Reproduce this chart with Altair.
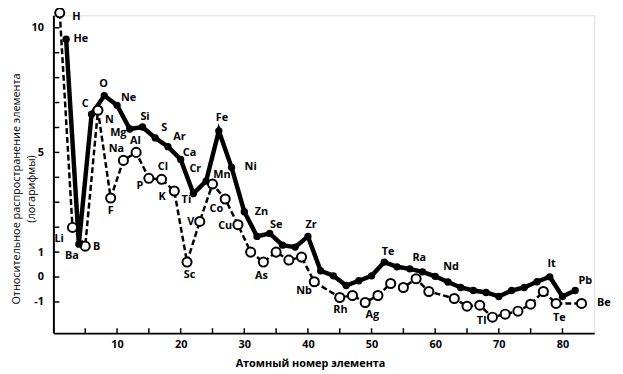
import altair as alt
import pandas as pd

# Odd atomic numbers (open circles, dashed line)
odd_z = [1, 3, 5, 7, 9, 11, 13, 15, 17, 19, 21, 23, 25, 27, 29, 31, 33, 35, 37, 39, 41,
         45, 47, 49, 51, 53, 55, 57, 59, 63, 65, 67, 69, 71, 73, 75, 77, 79, 83]
odd_v = [10.6, 1.99, 1.24, 6.69, 3.17, 4.68, 5.0, 3.96, 3.92, 3.45, 0.6, 2.23, 3.73, 3.13, 2.1,
         1.0, 0.6, 1.0, 0.68, 0.8, -0.19,
         -0.82, -0.74, -1.02, -0.74, -0.26, -0.42, -0.07, -0.58, -0.86, -1.17, -1.13, -1.61,
         -1.49, -1.37, -1.09, -0.58, -1.06, -1.06]

# Even atomic numbers (filled circles, solid line)
even_z = [2, 4, 6, 8, 10, 12, 14, 16, 18, 20, 22, 24, 26, 28, 30, 32, 34, 36, 38, 40,
          42, 44, 46, 48, 50, 52, 54, 56, 58, 60, 62, 64, 66, 68, 70, 72, 74, 76, 78, 80, 82]
even_v = [9.54, 1.32, 6.53, 7.28, 6.89, 5.94, 6.02, 5.58, 5.23, 4.72, 3.35, 3.85, 5.86, 4.4,
          2.62, 1.63, 1.75, 1.28, 1.2, 1.63, 0.25, 0.05, -0.34, -0.15, 0.05, 0.6, 0.41, 0.33,
          0.21, 0.03, -0.2, -0.42, -0.54, -0.62, -0.78, -0.54, -0.42, -0.19, 0.01, -0.78, -0.54]

# Element labels (text and where they sit, in data units)
label_text = ["H", "He", "C", "O", "N", "Ne", "Mg", "Si", "Na", "Al", "F", "Li", "Ba", "B",
              "S", "Ar", "Ca", "Cr", "Mn", "P", "Cl", "K", "Ti", "Fe", "Ni", "Co", "V", "Cu",
              "Sc", "Zn", "Se", "As", "Zr", "Nb", "Rh", "Ag", "Te", "Ra", "Nd", "Tl", "It",
              "Pb", "Te", "Be"]
label_z = [3.6, 4.3, 5.0, 7.9, 8.8, 11.8, 10.2, 14.4, 9.9, 12.9, 9.0, 0.9, 2.9, 6.8,
           17.4, 19.8, 21.4, 22.3, 26.5, 13.6, 17.2, 17.1, 20.9, 26.5, 31.0, 25.6, 21.6, 27.0,
           21.4, 32.7, 35.0, 32.7, 40.5, 39.4, 45.1, 50.1, 52.6, 57.5, 62.5, 67.3, 78.3,
           83.6, 79.5, 86.5]
label_v = [10.45, 9.54, 6.93, 7.76, 6.3, 7.17, 5.78, 6.42, 5.15, 5.47, 2.66, 1.51, 0.84, 1.2,
           5.98, 5.62, 4.99, 4.32, 4.08, 3.65, 4.4, 3.21, 3.09, 6.38, 4.4, 2.74, 2.19, 2.03,
           0.09, 2.62, 2.1, 0.05, 2.07, -0.58, -1.33, -1.53, 1.0, 0.76, 0.41, -1.77, 0.53,
           -0.15, -1.65, -1.06]

x_labels = [10, 20, 30, 40, 50, 60, 70, 80]
x_ticks = list(range(5, 85, 5))
y_labels = [10, 5, 1, 0, -1]
y_ticks = list(range(-1, 11))
y_title_lines = ["Относительное распространение элемента", "(логарифмы)"]
x_title = "Атомный номер элемента"

odd_df = pd.DataFrame({"z": odd_z, "v": odd_v})
even_df = pd.DataFrame({"z": even_z, "v": even_v})
lab_df = pd.DataFrame({"t": label_text, "z": label_z, "v": label_v})
xt_df = pd.DataFrame({"z": x_ticks})
yt_df = pd.DataFrame({"v": y_ticks})

FONT = "Open Sans"
W, H = 548, 322

xs = alt.Scale(domain=[0, 85], nice=False, zero=False)
ys = alt.Scale(domain=[-2.25, 10.5], nice=False, zero=False)

x_axis = alt.Axis(values=x_labels, labelExpr="'' + datum.value",
                  title=x_title, grid=False, domainColor="black",
                  domainWidth=2, ticks=False, labelFont=FONT, labelFontSize=11,
                  labelFontWeight="bold", labelColor="black", labelPadding=6,
                  titleFont=FONT, titleFontSize=11, titleFontWeight="bold",
                  titleColor="black", titleAlign="center", titleBaseline="middle",
                  titleX=260, titleY=31)
y_axis = alt.Axis(values=y_labels, labelExpr="'' + datum.value", title=None,
                  grid=False, domainColor="black", domainWidth=2, ticks=False,
                  labelFont=FONT, labelFontSize=11, labelFontWeight="bold",
                  labelColor="black", labelPadding=10)

Xn = alt.X("z:Q", scale=xs)
Yn = alt.Y("v:Q", scale=ys)

odd_line = alt.Chart(odd_df).mark_line(color="black", strokeWidth=2.5, strokeDash=[6, 3],
                                       clip=False).encode(
    x=alt.X("z:Q", scale=xs, axis=x_axis), y=alt.Y("v:Q", scale=ys, axis=y_axis))
even_line = alt.Chart(even_df).mark_line(color="black", strokeWidth=4.5,
                                         clip=False).encode(x=Xn, y=Yn)
odd_pts = alt.Chart(odd_df).mark_point(shape="circle", filled=True, fill="white",
                                       stroke="black", strokeWidth=2, size=85, opacity=1,
                                       clip=False).encode(x=Xn, y=Yn)
even_pts = alt.Chart(even_df).mark_circle(color="black", size=55, opacity=1,
                                          clip=False).encode(x=Xn, y=Yn)
labels = alt.Chart(lab_df).mark_text(font=FONT, fontSize=11, fontWeight="bold",
                                     color="black", clip=False).encode(x=Xn, y=Yn, text="t:N")

# inward tick marks on both axes
x_tick_marks = alt.Chart(xt_df).mark_rule(color="black", strokeWidth=1.5).encode(
    x=Xn, y=alt.value(H - 5), y2=alt.value(H))
y_tick_marks = alt.Chart(yt_df).mark_rule(color="black", strokeWidth=1.5).encode(
    y=Yn, x=alt.value(0), x2=alt.value(6))

# y-axis title, two rotated lines
title_df = pd.DataFrame({"t": y_title_lines, "dx": [-37, -22]})
y_title = alt.Chart(title_df).mark_text(font=FONT, fontSize=11, angle=270, align="center",
                                        baseline="middle", color="black", clip=False).encode(
    text="t:N", x=alt.X("dx:Q", scale=None), y=alt.value(176))

chart = alt.layer(odd_line, even_line, odd_pts, even_pts, labels, x_tick_marks,
                  y_tick_marks, y_title).properties(
    width=W, height=H,
    autosize=alt.AutoSizeParams(type="none"),
    padding={"left": 46, "top": 5, "right": 21, "bottom": 38},
).configure_view(stroke=None).configure(background="white")

chart.save("out.html", embed_options={"renderer": "svg", "actions": False})
